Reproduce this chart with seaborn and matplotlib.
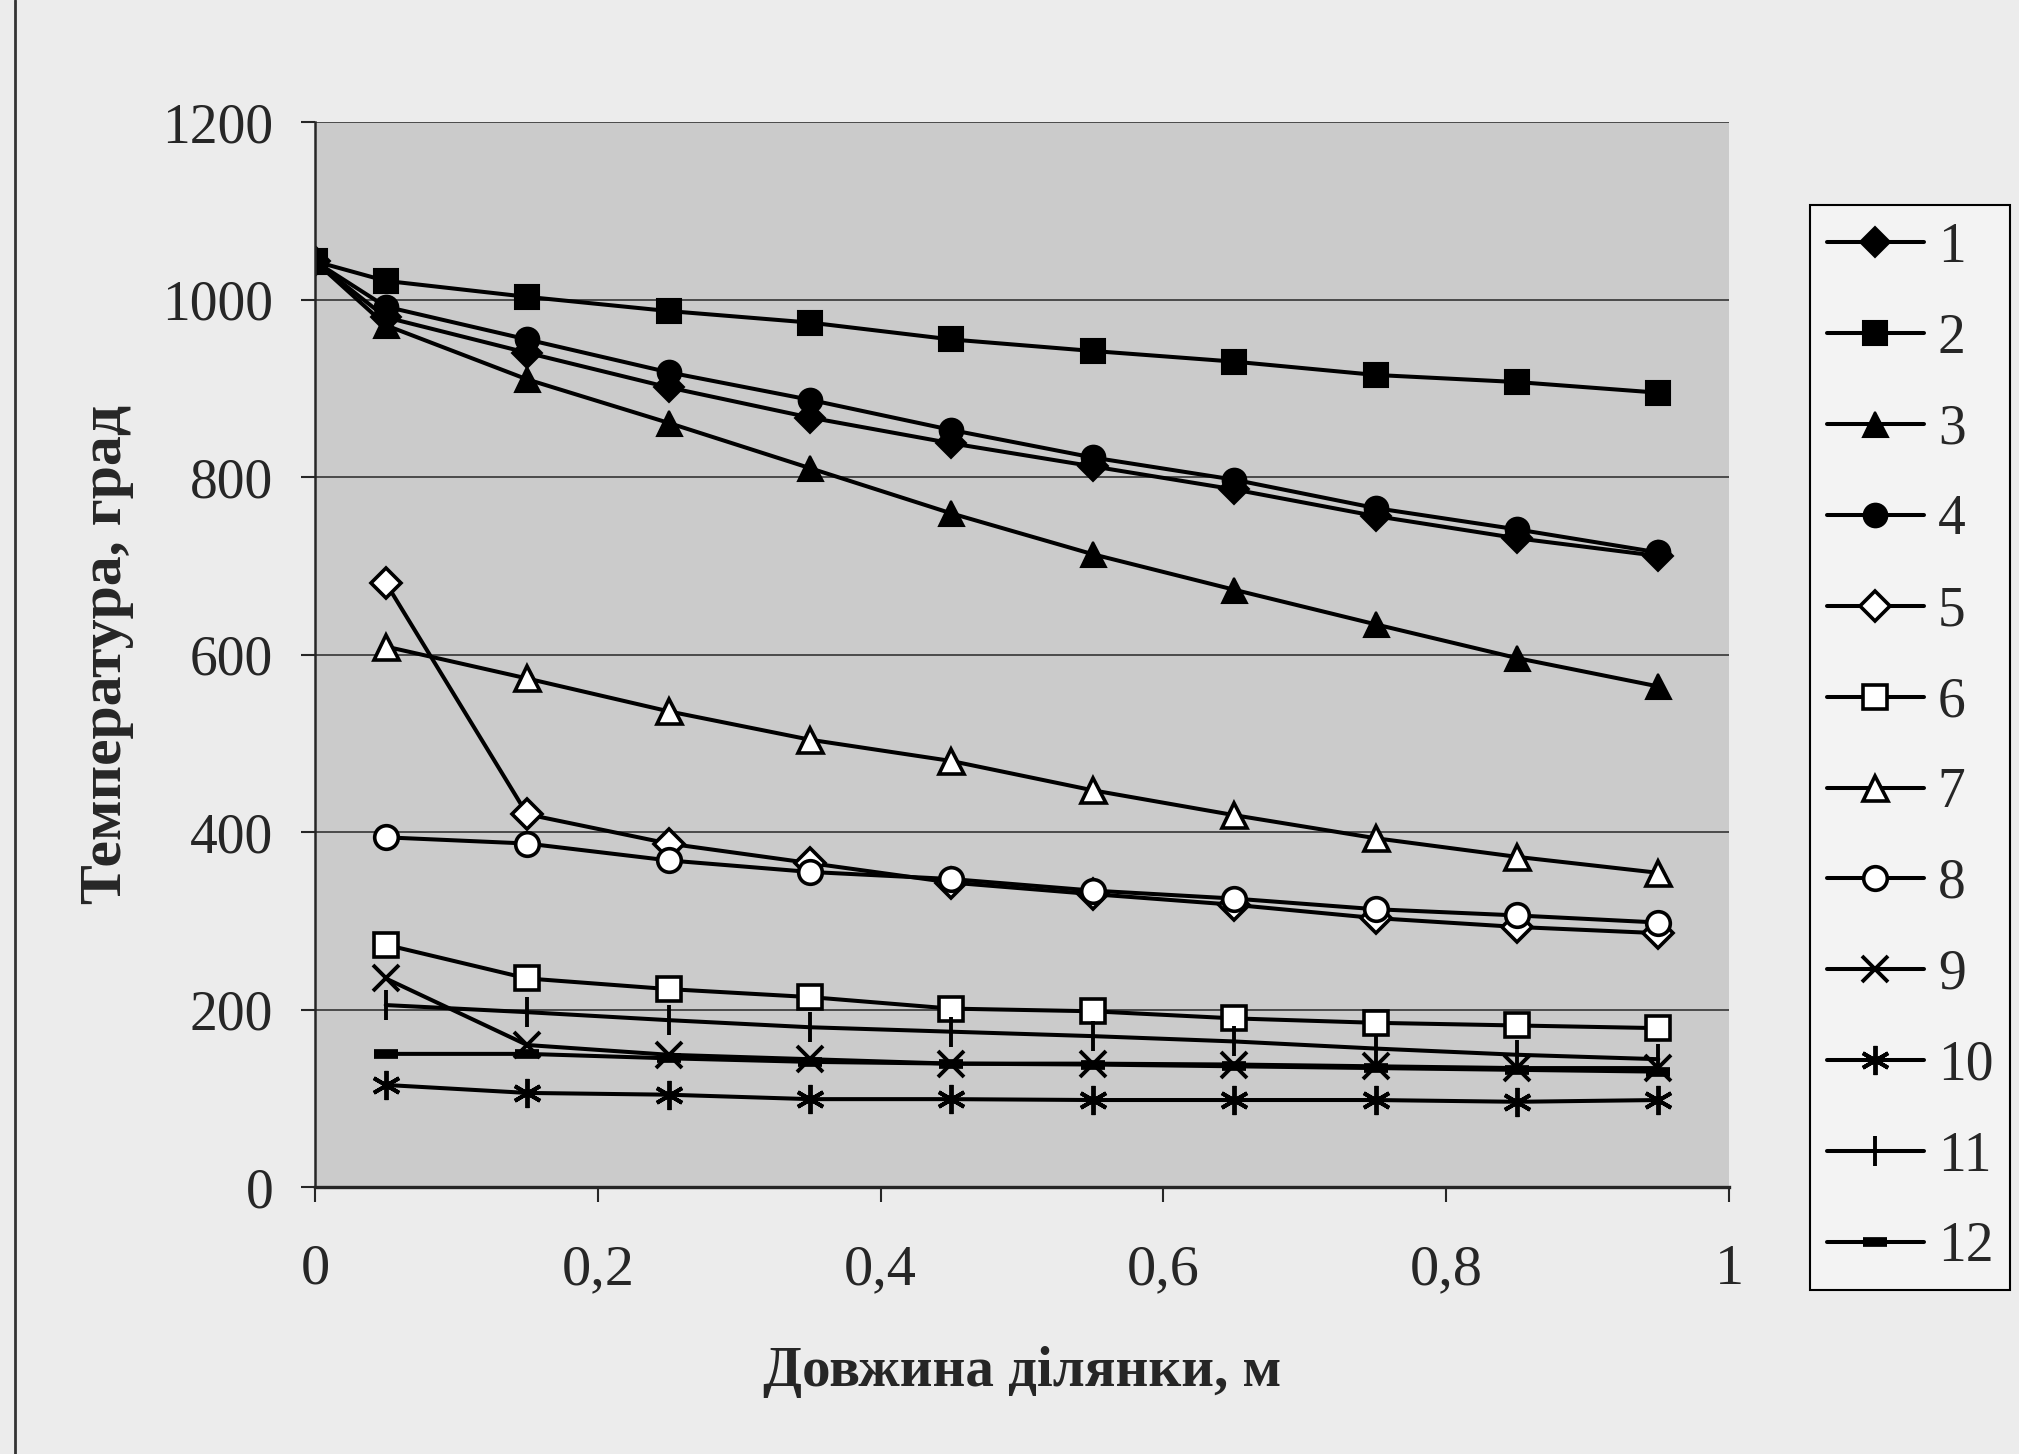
import matplotlib
matplotlib.use('Agg')
import matplotlib.pyplot as plt
import pandas as pd
import seaborn as sns
from matplotlib.lines import Line2D

# Section length, m (series 1-4 also have the inlet point at 0)
x_with_inlet = [0.0, 0.05, 0.15, 0.25, 0.35, 0.45, 0.55, 0.65, 0.75, 0.85, 0.95]
x_sections = [0.05, 0.15, 0.25, 0.35, 0.45, 0.55, 0.65, 0.75, 0.85, 0.95]

# Temperature, deg
temp_1 = [1043, 980, 940, 901, 867, 838, 812, 786, 756, 731, 711]
temp_2 = [1043, 1021, 1003, 987, 974, 955, 942, 930, 915, 907, 895]
temp_3 = [1043, 971, 910, 861, 810, 759, 713, 673, 634, 596, 564]
temp_4 = [1043, 992, 955, 918, 887, 853, 822, 797, 765, 741, 715]
temp_5 = [681, 420, 387, 365, 343, 330, 318, 303, 293, 286]
temp_6 = [273, 235, 223, 214, 201, 198, 190, 185, 182, 179]
temp_7 = [609, 573, 536, 504, 480, 447, 419, 393, 372, 354]
temp_8 = [394, 387, 368, 355, 347, 334, 325, 313, 306, 298]
temp_9 = [235, 160, 149, 144, 139, 139, 138, 136, 134, 134]
temp_10 = [115, 106, 104, 99, 99, 98, 98, 98, 96, 98]
temp_11 = [205, 197, 188, 180, 175, 170, 164, 156, 149, 144]
temp_12 = [150, 150, 145, 141, 139, 138, 136, 134, 132, 130]

series_labels = ['1', '2', '3', '4', '5', '6', '7', '8', '9', '10', '11', '12']
x_ticks = [0, 0.2, 0.4, 0.6, 0.8, 1.0]
x_tick_labels = ['0', '0,2', '0,4', '0,6', '0,8', '1']
y_ticks = [0, 200, 400, 600, 800, 1000, 1200]


def main() -> None:
    series = [
        (x_with_inlet, temp_1), (x_with_inlet, temp_2), (x_with_inlet, temp_3), (x_with_inlet, temp_4),
        (x_sections, temp_5), (x_sections, temp_6), (x_sections, temp_7), (x_sections, temp_8),
        (x_sections, temp_9), (x_sections, temp_10), (x_sections, temp_11), (x_sections, temp_12),
    ]
    # marker, face colour, size, edge width
    styles = [
        ('D', 'black', 15, 1.5), ('s', 'black', 17, 1.5), ('^', 'black', 18, 1.5), ('o', 'black', 17, 1.5),
        ('D', 'white', 15, 2.6), ('s', 'white', 17, 2.6), ('^', 'white', 18, 2.6), ('o', 'white', 17, 2.6),
        ('x', 'black', 19, 2.8), ((6, 2, 0), 'black', 21, 2.8), ('|', 'black', 21, 2.8), ('_', 'black', 17, 7),
    ]

    sns.set_style('ticks')
    plt.rcParams['font.family'] = ['Liberation Serif', 'DejaVu Serif']

    fig = plt.figure(figsize=(20.19, 14.54), dpi=100, facecolor='#ececec')
    ax = fig.add_axes([315 / 2019, 1 - 1187 / 1454, 1414 / 2019, 1065 / 1454])
    ax.set_facecolor('#cbcbcb')

    for (xs, ys), (mk, fc, ms, mew), lab in zip(series, styles, series_labels):
        df = pd.DataFrame({'x': xs, 'y': ys})
        sns.lineplot(
            data=df, x='x', y='y', ax=ax, color='black', linewidth=2.9,
            marker=mk, markersize=ms, markerfacecolor=fc, markeredgecolor='black',
            markeredgewidth=mew, estimator=None, sort=False, label=lab,
        )

    ax.set_xlim(0, 1)
    ax.set_ylim(0, 1200)
    ax.set_xticks(x_ticks)
    ax.set_xticklabels(x_tick_labels)
    ax.set_yticks(y_ticks)
    ax.yaxis.grid(True, color='#4a4a4a', linewidth=1.4)
    ax.xaxis.grid(False)
    ax.set_axisbelow(True)
    for side in ('top', 'right'):
        ax.spines[side].set_visible(False)
    ax.spines['left'].set_linewidth(1.8)
    ax.spines['bottom'].set_linewidth(2.4)
    ax.tick_params(axis='y', labelsize=40, length=10, width=1.5, pad=20, direction='out')
    ax.tick_params(axis='x', labelsize=42, length=11, width=1.5, pad=30, direction='out')

    ax.set_xlabel('Довжина ділянки, м', fontsize=41, fontweight='bold', labelpad=36)
    ax.set_ylabel('Температура, град', fontsize=43, fontweight='bold', labelpad=20)

    handles, labels = ax.get_legend_handles_labels()
    leg = fig.legend(
        handles, labels, loc='upper left', bbox_to_anchor=(1810 / 2019, 1 - 205 / 1454),
        frameon=True, fancybox=False, edgecolor='black', facecolor='#f3f3f3', framealpha=1,
        fontsize=40, handlelength=1.75, handletextpad=0.25, labelspacing=0.70,
        borderpad=0.3, borderaxespad=0,
    )
    leg.get_frame().set_linewidth(1.5)
    ax.get_legend().remove()

    # left border of the chart area
    fig.add_artist(Line2D([15 / 2019, 15 / 2019], [0, 1], color='#333333', linewidth=2))

    fig.savefig('out.png', dpi=100, facecolor=fig.get_facecolor())
    plt.close(fig)


if __name__ == '__main__':
    main()
